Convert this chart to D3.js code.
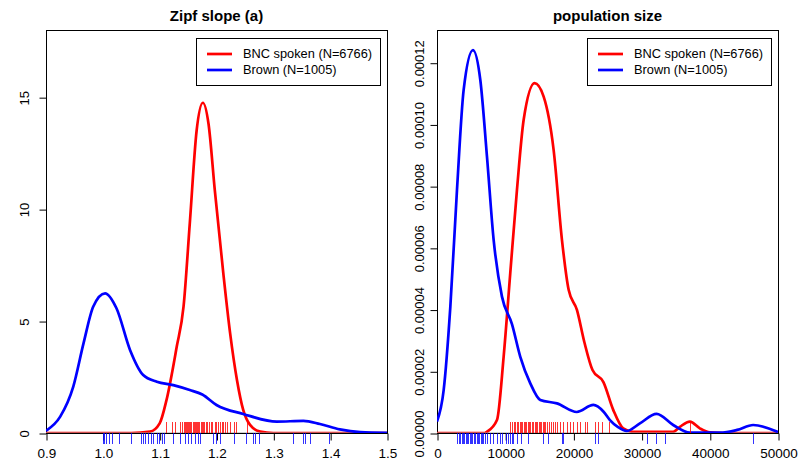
<!DOCTYPE html>
<html lang="en">
  <head>
    <meta charset="utf-8">
    <title>Zipf slope and population size</title>
    <style>
      body { margin: 0; background: white; }
      svg { display: block; font-family: "Liberation Sans", Arial, sans-serif; }
    </style>
    <script src="https://d3js.org/d3.v7.min.js"></script>
  </head>
  <body>
    <div class="viz"></div>
    <script>

    // ---- data ----
    const legendLabels = ["BNC spoken (N=6766)", "Brown (N=1005)"];
    const seriesColors = ["#ff0000", "#0000ff"];

    // Zipf slope (a): density curves
    const bncZipfX = [0.9, 1.05, 1.083, 1.1, 1.112, 1.13, 1.142, 1.153, 1.165, 1.176, 1.186, 1.197, 1.212, 1.224, 1.236, 1.247, 1.259, 1.277, 1.3, 1.5];
    const bncZipfY = [0, 0, 0.06, 0.43, 1.47, 3.85, 5.64, 9.36, 13.5, 14.75, 13.8, 10.85, 7.13, 4.45, 2.37, 1.03, 0.36, 0.06, 0, 0];
    const brownZipfX = [0.9, 0.925, 0.948, 0.966, 0.983, 1.004, 1.024, 1.048, 1.071, 1.095, 1.124, 1.153, 1.175, 1.2, 1.247, 1.306, 1.353, 1.382, 1.417, 1.453, 1.5];
    const brownZipfY = [0.1, 0.73, 2.07, 4.0, 5.64, 6.24, 5.57, 3.7, 2.59, 2.29, 2.14, 1.92, 1.72, 1.25, 0.85, 0.51, 0.54, 0.4, 0.16, 0.04, 0.01];

    // Zipf slope rugs
    const bncZipfRug = [1.112, 1.121, 1.127, 1.135, 1.139, 1.142, 1.144, 1.146, 1.148, 1.15, 1.152, 1.154, 1.156, 1.158, 1.16, 1.162, 1.164, 1.166, 1.168, 1.17, 1.172, 1.174, 1.176, 1.178, 1.181, 1.184, 1.186, 1.19, 1.192, 1.197, 1.2, 1.203, 1.206, 1.209, 1.212, 1.215, 1.218, 1.224, 1.23, 1.234, 1.253];
    const brownZipfRug = [1.0, 1.002, 1.006, 1.01, 1.016, 1.029, 1.049, 1.068, 1.071, 1.075, 1.08, 1.084, 1.089, 1.095, 1.099, 1.104, 1.108, 1.124, 1.136, 1.145, 1.15, 1.156, 1.162, 1.168, 1.171, 1.194, 1.2, 1.207, 1.23, 1.252, 1.265, 1.268, 1.275, 1.335, 1.352, 1.356, 1.365, 1.398];

    // population size: density curves (y in units of 1e-5)
    const bncPopX = [0, 7000, 7328, 8794, 9770, 10743, 11725, 12707, 14319, 15638, 17103, 18320, 19302, 20518, 21600, 22800, 24400, 25840, 27305, 28771, 34634, 35614, 37080, 38546, 40012, 42000, 50000];
    const bncPopY = [0, 0, 0.04, 0.42, 2.47, 5.18, 7.88, 10.15, 11.34, 10.9, 9.17, 6.26, 4.64, 3.99, 2.95, 2.04, 1.65, 0.75, 0.15, 0.04, 0.04, 0.2, 0.37, 0.15, 0.02, 0, 0];
    const brownPopX = [0, 977, 1954, 2931, 3908, 5276, 6351, 7328, 8305, 9526, 10992, 12213, 13679, 15145, 17587, 20500, 22930, 24426, 25355, 26500, 27803, 29752, 32200, 34634, 37080, 41477, 44000, 46358, 50000];
    const brownPopY = [0.37, 1.39, 4.09, 7.88, 11.12, 12.41, 11.44, 8.96, 6.26, 4.42, 3.53, 2.47, 1.61, 1.07, 0.96, 0.68, 0.91, 0.69, 0.42, 0.2, 0.065, 0.31, 0.62, 0.26, 0.01, 0.01, 0.1, 0.26, 0.03];

    // population size rugs
    const bncPopRug = [10700, 11000, 11250, 11500, 11700, 11900, 12100, 12300, 12500, 12700, 12900, 13100, 13300, 13500, 13700, 13900, 14100, 14300, 14500, 14700, 14900, 15100, 15300, 15500, 15700, 15900, 16100, 16400, 16700, 17000, 17300, 17600, 18000, 18511, 19009, 19493, 19977, 20475, 20958, 21691, 21941, 23157, 23641, 24139, 25253, 37080];
    const brownPopRug = [2975, 3200, 3400, 3600, 3800, 4000, 4200, 4400, 4600, 4800, 5000, 5200, 5400, 5600, 5800, 6000, 6200, 6400, 6600, 6800, 7035, 7372, 7768, 8164, 8750, 9233, 9483, 10113, 10450, 10699, 10948, 11183, 11681, 12267, 13381, 15580, 16313, 18276, 18511, 23157, 23641, 30822, 32097, 33416, 46358];

    // ticks
    const zipfXTicks = [0.9, 1.0, 1.1, 1.2, 1.3, 1.4, 1.5];
    const zipfYTicks = [0, 5, 10, 15];
    const popXTicks = [0, 10000, 20000, 30000, 40000, 50000];
    const popYTicks = [0, 2e-5, 4e-5, 6e-5, 8e-5, 10e-5, 12e-5];

    const W = 805, H = 467;
    const svg = d3.select(".viz").append("svg")
      .attr("width", W).attr("height", H);

    const zip = (xs, ys, k) => xs.map((x, i) => ({x: x, y: ys[i] * k}));

    function panel(opt) {
      const x = d3.scaleLinear().domain(opt.xDomain).range([opt.left, opt.right]);
      const y = d3.scaleLinear().domain(opt.yDomain).range([433, 30]);
      const g = svg.append("g");

      const clipId = "clip" + opt.id;
      g.append("clipPath").attr("id", clipId)
        .append("rect")
        .attr("x", opt.left).attr("y", 30)
        .attr("width", opt.right - opt.left).attr("height", 403);

      // title
      g.append("text")
        .attr("x", (opt.left + opt.right) / 2).attr("y", 21)
        .attr("text-anchor", "middle")
        .style("font-weight", "bold").style("font-size", "15px")
        .text(opt.title);

      // box
      g.append("rect")
        .attr("x", opt.left + 0.5).attr("y", 30.5)
        .attr("width", opt.right - opt.left).attr("height", 403)
        .attr("fill", "none").attr("stroke", "black");

      // axes
      const xAxis = d3.axisBottom(x).tickValues(opt.xTicks).tickSize(7).tickPadding(8)
        .tickFormat(opt.xFormat);
      g.append("g").attr("transform", "translate(0.5,433.5)").call(xAxis)
        .call(a => a.select(".domain").attr("d", `M${x(opt.xTicks[0])},0H${x(opt.xTicks[opt.xTicks.length - 1])}`))
        .call(a => a.selectAll("text").style("font-size", "13.5px").attr("fill", "black")
          .style("font-family", "Liberation Sans, Arial, sans-serif"));

      const yAxis = d3.axisLeft(y).tickValues(opt.yTicks).tickSize(7).tickFormat(opt.yFormat);
      g.append("g").attr("transform", `translate(${opt.left + 0.5},0.5)`).call(yAxis)
        .call(a => a.select(".domain").attr("d", `M0,${y(opt.yTicks[0])}V${y(opt.yTicks[opt.yTicks.length - 1])}`))
        .call(a => a.selectAll("text")
          .attr("x", null).attr("dy", null)
          .attr("text-anchor", "middle")
          .attr("transform", `translate(${opt.yLabelGap},0) rotate(-90)`)
          .style("font-size", "13px").attr("fill", "black")
          .style("font-family", "Liberation Sans, Arial, sans-serif"));

      const line = d3.line().x(d => x(d.x)).y(d => y(d.y)).curve(d3.curveMonotoneX);
      const plot = g.append("g").attr("clip-path", `url(#${clipId})`);

      plot.append("path").datum(opt.curves[0])
        .attr("d", line).attr("fill", "none")
        .attr("stroke", seriesColors[0]).attr("stroke-width", 2.7);
      plot.append("line")
        .attr("x1", opt.left).attr("x2", opt.right)
        .attr("y1", y(0)).attr("y2", y(0))
        .attr("stroke", "#a0a0a0").attr("stroke-width", 1);
      plot.append("path").datum(opt.curves[1])
        .attr("d", line).attr("fill", "none")
        .attr("stroke", seriesColors[1]).attr("stroke-width", 2.7);

      // rugs: red up from zero, blue down below it
      const px = d => Math.round(x(d)) + 0.5;
      g.append("g").selectAll("line").data(opt.rugs[0]).join("line")
        .attr("x1", px).attr("x2", px)
        .attr("y1", y(0) - 11).attr("y2", y(0))
        .attr("stroke", seriesColors[0]).attr("stroke-opacity", 0.8);
      g.append("g").selectAll("line").data(opt.rugs[1]).join("line")
        .attr("x1", px).attr("x2", px)
        .attr("y1", y(0)).attr("y2", y(0) + 11)
        .attr("stroke", seriesColors[1]).attr("stroke-opacity", 0.8);

      // legend
      const lg = g.append("g").attr("transform", `translate(${opt.right - 191},38)`);
      lg.append("rect").attr("x", 0.5).attr("y", 0.5).attr("width", 184).attr("height", 47)
        .attr("fill", "white").attr("stroke", "black");
      legendLabels.forEach((lab, i) => {
        lg.append("line").attr("x1", 11).attr("x2", 36)
          .attr("y1", 16 + i * 16).attr("y2", 16 + i * 16)
          .attr("stroke", seriesColors[i]).attr("stroke-width", 2.7);
        lg.append("text").attr("x", 47).attr("y", 16 + i * 16).attr("dy", "0.35em")
          .style("font-size", "12.8px").text(lab);
      });
    }

    panel({
      id: "zipf", title: "Zipf slope (a)", left: 46, right: 387,
      xDomain: [0.9, 1.5], yDomain: [0, 18],
      xTicks: zipfXTicks, yTicks: zipfYTicks,
      xFormat: d3.format(".1f"), yFormat: d3.format("d"), yLabelGap: -18,
      curves: [zip(bncZipfX, bncZipfY, 1), zip(brownZipfX, brownZipfY, 1)],
      rugs: [bncZipfRug, brownZipfRug]
    });

    panel({
      id: "pop", title: "population size", left: 437, right: 778,
      xDomain: [0, 50000], yDomain: [0, 0.0001306],
      xTicks: popXTicks, yTicks: popYTicks,
      xFormat: d3.format("d"), yFormat: d3.format(".5f"), yLabelGap: -14,
      curves: [zip(bncPopX, bncPopY, 1e-5), zip(brownPopX, brownPopY, 1e-5)],
      rugs: [bncPopRug, brownPopRug]
    });
    </script>
  </body>
</html>
